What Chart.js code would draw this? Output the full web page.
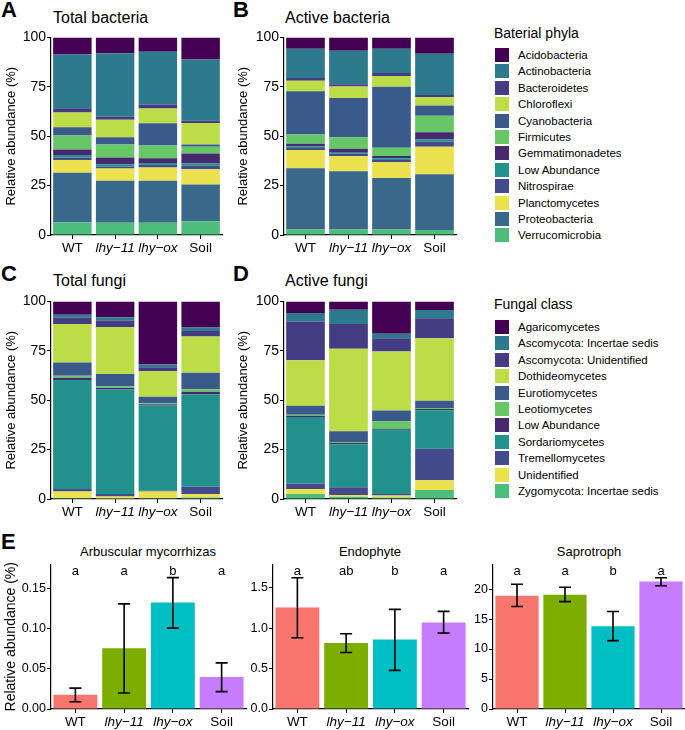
<!DOCTYPE html>
<html lang="en">
<head>
<meta charset="UTF-8">
<title>Bacterial and fungal community composition</title>
<script src="https://cdn.jsdelivr.net/npm/chart.js"></script>
<style>
  body { margin: 0; background: #fff; font-family: "Liberation Sans", Arial, sans-serif; color: #000; }
  #fig { position: relative; width: 685px; height: 730px; overflow: hidden; }
  canvas { position: absolute; }
  .tag { position: absolute; font-weight: bold; font-size: 22px; line-height: 22px; }
  .ttl { position: absolute; font-size: 16px; line-height: 16px; white-space: nowrap; }
  .sub { position: absolute; font-size: 13px; line-height: 13px; white-space: nowrap; transform: translateX(-50%); }
  .legtitle { position: absolute; font-size: 14px; line-height: 14px; white-space: nowrap; }
  .sw { position: absolute; width: 14px; height: 14px; }
  .lt { position: absolute; font-size: 11.5px; line-height: 14px; white-space: nowrap; }
</style>
</head>
<body>
<div id="fig">
  <div class="tag" style="left:1px;top:-1px">A</div>
  <div class="tag" style="left:233px;top:-1px">B</div>
  <div class="tag" style="left:1px;top:263px">C</div>
  <div class="tag" style="left:233px;top:263px">D</div>
  <div class="tag" style="left:1px;top:531px">E</div>

  <div class="ttl" style="left:53px;top:10px">Total bacteria</div>
  <div class="ttl" style="left:285px;top:10px">Active bacteria</div>
  <div class="ttl" style="left:53px;top:273px">Total fungi</div>
  <div class="ttl" style="left:285px;top:273px">Active fungi</div>

  <div class="sub" style="left:148px;top:545px">Arbuscular mycorrhizas</div>
  <div class="sub" style="left:370px;top:545px">Endophyte</div>
  <div class="sub" style="left:589px;top:545px">Saprotroph</div>

  <canvas id="cA" width="228" height="240" style="left:0;top:28px"></canvas>
  <canvas id="cB" width="228" height="240" style="left:232px;top:28px"></canvas>
  <canvas id="cC" width="228" height="240" style="left:0;top:292px"></canvas>
  <canvas id="cD" width="228" height="240" style="left:232px;top:292px"></canvas>
  <canvas id="cE1" width="250" height="174" style="left:0;top:556px"></canvas>
  <canvas id="cE2" width="222" height="174" style="left:250px;top:556px"></canvas>
  <canvas id="cE3" width="213" height="174" style="left:472px;top:556px"></canvas>
</div>

<script>
// groups shown on every x axis
const groups = ['WT', 'lhy\u221211', 'lhy\u2212ox', 'Soil'];

// legend order (first item is drawn on top of the stack)
const bacteriaPhyla = ['Acidobacteria', 'Actinobacteria', 'Bacteroidetes', 'Chloroflexi', 'Cyanobacteria',
  'Firmicutes', 'Gemmatimonadetes', 'Low Abundance', 'Nitrospirae', 'Planctomycetes', 'Proteobacteria', 'Verrucomicrobia'];
const bacteriaColors = ['#440154', '#2c7a8c', '#443d84', '#bddd48', '#3b5a8c', '#66c766',
  '#472a6e', '#22908c', '#434b8c', '#ebe04e', '#3a688b', '#4cbd7a'];

const fungalClasses = ['Agaricomycetes', 'Ascomycota: Incertae sedis', 'Ascomycota: Unidentified', 'Dothideomycetes',
  'Eurotiomycetes', 'Leotiomycetes', 'Low Abundance', 'Sordariomycetes', 'Tremellomycetes', 'Unidentified',
  'Zygomycota: Incertae sedis'];
const fungalColors = ['#440154', '#2c7a8c', '#443d84', '#bddd48', '#3b5a8c', '#66c766',
  '#472a6e', '#22908c', '#434b8c', '#ebe04e', '#4cbd7a'];

// relative abundance (%) per phylum/class, values for WT, lhy-11, lhy-ox, Soil
const totalBacteria = [
  [8.7, 8.0, 7.2, 11.2],
  [27.1, 32.0, 26.8, 31.0],
  [2.2, 1.7, 2.0, 1.1],
  [7.5, 8.8, 7.5, 10.9],
  [4.2, 3.7, 11.2, 1.1],
  [7.0, 6.6, 6.5, 3.5],
  [2.8, 3.4, 2.3, 5.0],
  [1.3, 1.1, 1.0, 1.2],
  [1.2, 1.0, 1.3, 1.7],
  [6.5, 6.2, 6.7, 7.8],
  [25.2, 21.3, 21.3, 18.5],
  [6.3, 6.2, 6.2, 7.0]
];
const activeBacteria = [
  [5.8, 6.8, 5.8, 8.3],
  [14.7, 16.9, 12.2, 20.9],
  [1.5, 1.1, 1.5, 1.1],
  [5.2, 5.9, 5.5, 4.2],
  [22.0, 19.8, 30.8, 5.2],
  [4.6, 5.8, 4.2, 8.3],
  [1.4, 1.7, 1.2, 3.7],
  [0.8, 0.8, 0.8, 1.1],
  [1.0, 1.2, 1.0, 2.5],
  [9.2, 7.8, 8.2, 13.9],
  [31.0, 29.4, 26.0, 28.3],
  [2.8, 2.8, 2.8, 2.5]
];
const totalFungi = [
  [6.7, 8.0, 31.9, 13.2],
  [1.5, 1.7, 1.4, 1.8],
  [3.3, 3.3, 2.0, 2.7],
  [19.4, 23.8, 12.9, 18.4],
  [6.7, 6.3, 3.3, 8.4],
  [1.0, 0.7, 0.5, 1.2],
  [1.2, 0.8, 0.7, 1.3],
  [55.2, 52.9, 43.1, 46.8],
  [1.2, 1.2, 0.4, 3.7],
  [3.3, 1.0, 3.3, 1.7],
  [0.5, 0.3, 0.5, 0.8]
];
const activeFungi = [
  [5.9, 4.2, 16.4, 4.3],
  [4.3, 7.2, 2.2, 4.2],
  [19.6, 12.5, 6.7, 10.1],
  [23.0, 41.8, 29.9, 31.7],
  [4.6, 5.5, 5.5, 3.7],
  [0.5, 0.5, 3.7, 0.5],
  [0.6, 0.7, 0.6, 0.7],
  [33.6, 21.7, 32.5, 19.4],
  [2.9, 3.9, 0.7, 15.9],
  [2.5, 0.8, 1.0, 5.0],
  [2.5, 1.2, 0.8, 4.5]
];
const stackTicks = [0, 25, 50, 75, 100];

// fungal guilds: mean, lower and upper error, significance letters
const guildColors = ['#F8766D', '#7CAE00', '#00BFC4', '#C77CFF'];
const amMean = [0.0176, 0.0756, 0.1327, 0.0398];
const amLow = [0.0090, 0.0200, 0.1007, 0.0217];
const amHigh = [0.0260, 0.1310, 0.1636, 0.0575];
const amLetters = ['a', 'a', 'b', 'a'];
const endoMean = [1.256, 0.815, 0.860, 1.068];
const endoLow = [0.881, 0.698, 0.477, 0.938];
const endoHigh = [1.623, 0.930, 1.231, 1.207];
const endoLetters = ['a', 'ab', 'b', 'a'];
const sapMean = [18.9, 19.05, 13.8, 21.25];
const sapLow = [17.1, 17.9, 11.4, 20.55];
const sapHigh = [20.8, 20.3, 16.25, 21.9];
const sapLetters = ['a', 'a', 'b', 'a'];

Chart.defaults.font.family = '"Liberation Sans", Arial, sans-serif';
Chart.defaults.color = '#000';

const italicTick = size => c => ({ size: size, style: (c.index === 1 || c.index === 2) ? 'italic' : 'normal' });

// box = canvas position, plot = wanted plot area in page pixels
function frame(box, plot) {
  return {
    padding: { top: plot.t - box.top, right: box.left + box.width - plot.r, left: 0, bottom: 0 },
    yWidth: plot.l - box.left,
    xHeight: box.top + box.height - plot.b
  };
}

function stackChart(id, box, plot, values, names, colors) {
  const f = frame(box, plot);
  const datasets = names.map((n, k) => ({
    label: n, data: values[k], backgroundColor: colors[k], borderWidth: 0
  })).reverse();
  new Chart(document.getElementById(id), {
    type: 'bar',
    data: { labels: groups, datasets: datasets },
    options: {
      responsive: false, animation: false,
      layout: { padding: f.padding },
      plugins: { legend: { display: false }, tooltip: { enabled: false } },
      datasets: { bar: { categoryPercentage: 1, barPercentage: 0.9 } },
      scales: {
        x: {
          stacked: true,
          grid: { drawOnChartArea: false, offset: false, tickLength: 4, color: '#000', lineWidth: 1 },
          border: { color: '#000', width: 1.2 },
          ticks: { font: italicTick(13.5), padding: 1, maxRotation: 0, autoSkip: false },
          afterFit: s => { s.height = f.xHeight; }
        },
        y: {
          stacked: true, min: 0, max: 100,
          afterBuildTicks: s => { s.ticks = stackTicks.map(v => ({ value: v })); },
          grid: { drawOnChartArea: false, tickLength: 4, color: '#000', lineWidth: 1 },
          border: { color: '#000', width: 1.2 },
          ticks: { font: { size: 14 }, padding: 1 },
          title: { display: true, text: 'Relative abundance (%)', font: { size: 13 }, padding: { top: 4, bottom: 0 } },
          afterFit: s => { s.width = f.yWidth; }
        }
      }
    }
  });
}

const errorBars = {
  id: 'errorBars',
  afterDatasetsDraw(chart, args, opts) {
    const ctx = chart.ctx, x = chart.scales.x, y = chart.scales.y;
    ctx.save();
    ctx.strokeStyle = '#000';
    ctx.lineWidth = 1.6;
    opts.low.forEach((lo, i) => {
      const cx = x.getPixelForValue(i);
      const y1 = y.getPixelForValue(lo), y2 = y.getPixelForValue(opts.high[i]);
      ctx.beginPath();
      ctx.moveTo(cx, y1); ctx.lineTo(cx, y2);
      ctx.moveTo(cx - 6, y1); ctx.lineTo(cx + 6, y1);
      ctx.moveTo(cx - 6, y2); ctx.lineTo(cx + 6, y2);
      ctx.stroke();
    });
    ctx.fillStyle = '#000';
    ctx.font = '13px "Liberation Sans", Arial, sans-serif';
    ctx.textAlign = 'center';
    ctx.textBaseline = 'middle';
    opts.letters.forEach((t, i) => {
      ctx.fillText(t, x.getPixelForValue(i), chart.chartArea.top + 7);
    });
    ctx.restore();
  }
};

function guildChart(id, box, plot, mean, low, high, letters, ymax, step, dec, showTitle) {
  const f = frame(box, plot);
  new Chart(document.getElementById(id), {
    type: 'bar',
    data: { labels: groups, datasets: [{ data: mean, backgroundColor: guildColors, borderWidth: 0 }] },
    options: {
      responsive: false, animation: false,
      layout: { padding: f.padding },
      plugins: {
        legend: { display: false }, tooltip: { enabled: false },
        errorBars: { low: low, high: high, letters: letters }
      },
      datasets: { bar: { categoryPercentage: 1, barPercentage: 0.9 } },
      scales: {
        x: {
          grid: { drawOnChartArea: false, offset: false, tickLength: 4, color: '#000', lineWidth: 1 },
          border: { color: '#000', width: 1.2 },
          ticks: { font: italicTick(13.5), padding: 1, maxRotation: 0, autoSkip: false },
          afterFit: s => { s.height = f.xHeight; }
        },
        y: {
          min: 0, max: ymax,
          grid: { drawOnChartArea: false, tickLength: 4, color: '#000', lineWidth: 1 },
          border: { color: '#000', width: 1.2 },
          ticks: { stepSize: step, includeBounds: false, font: { size: 12.5 }, padding: 1, callback: v => v.toFixed(dec) },
          title: { display: showTitle, text: 'Relative abundance (%)', font: { size: 14 }, padding: { top: 3, bottom: 0 } },
          afterFit: s => { s.width = f.yWidth; }
        }
      }
    },
    plugins: [errorBars]
  });
}

stackChart('cA', { left: 0, top: 28, width: 228, height: 240 }, { l: 51, t: 35, r: 222, b: 235 },
  totalBacteria, bacteriaPhyla, bacteriaColors);
stackChart('cB', { left: 232, top: 28, width: 228, height: 240 }, { l: 284, t: 35, r: 456, b: 235 },
  activeBacteria, bacteriaPhyla, bacteriaColors);
stackChart('cC', { left: 0, top: 292, width: 228, height: 240 }, { l: 51, t: 299, r: 222, b: 499 },
  totalFungi, fungalClasses, fungalColors);
stackChart('cD', { left: 232, top: 292, width: 228, height: 240 }, { l: 284, t: 299, r: 456, b: 499 },
  activeFungi, fungalClasses, fungalColors);

guildChart('cE1', { left: 0, top: 556, width: 250, height: 174 }, { l: 51, t: 563, r: 246, b: 709 },
  amMean, amLow, amHigh, amLetters, 0.18, 0.05, 2, true);
guildChart('cE2', { left: 250, top: 556, width: 222, height: 174 }, { l: 273, t: 563, r: 468, b: 709 },
  endoMean, endoLow, endoHigh, endoLetters, 1.786, 0.5, 1, false);
guildChart('cE3', { left: 472, top: 556, width: 213, height: 174 }, { l: 493, t: 563, r: 685, b: 709 },
  sapMean, sapLow, sapHigh, sapLetters, 24.1, 5, 0, false);

// legends
function buildLegend(title, names, colors, titleTop, firstCenter) {
  const fig = document.getElementById('fig');
  const t = document.createElement('div');
  t.className = 'legtitle';
  t.style.left = '494px';
  t.style.top = titleTop + 'px';
  t.textContent = title;
  fig.appendChild(t);
  names.forEach((n, i) => {
    const cy = firstCenter + i * 16.4;
    const sw = document.createElement('div');
    sw.className = 'sw';
    sw.style.left = '495px';
    sw.style.top = (cy - 7) + 'px';
    sw.style.background = colors[i];
    fig.appendChild(sw);
    const lt = document.createElement('div');
    lt.className = 'lt';
    lt.style.left = '518px';
    lt.style.top = (cy - 7) + 'px';
    lt.textContent = n;
    fig.appendChild(lt);
  });
}
buildLegend('Baterial phyla', bacteriaPhyla, bacteriaColors, 26, 55);
buildLegend('Fungal class', fungalClasses, fungalColors, 297, 327);
</script>
</body>
</html>
